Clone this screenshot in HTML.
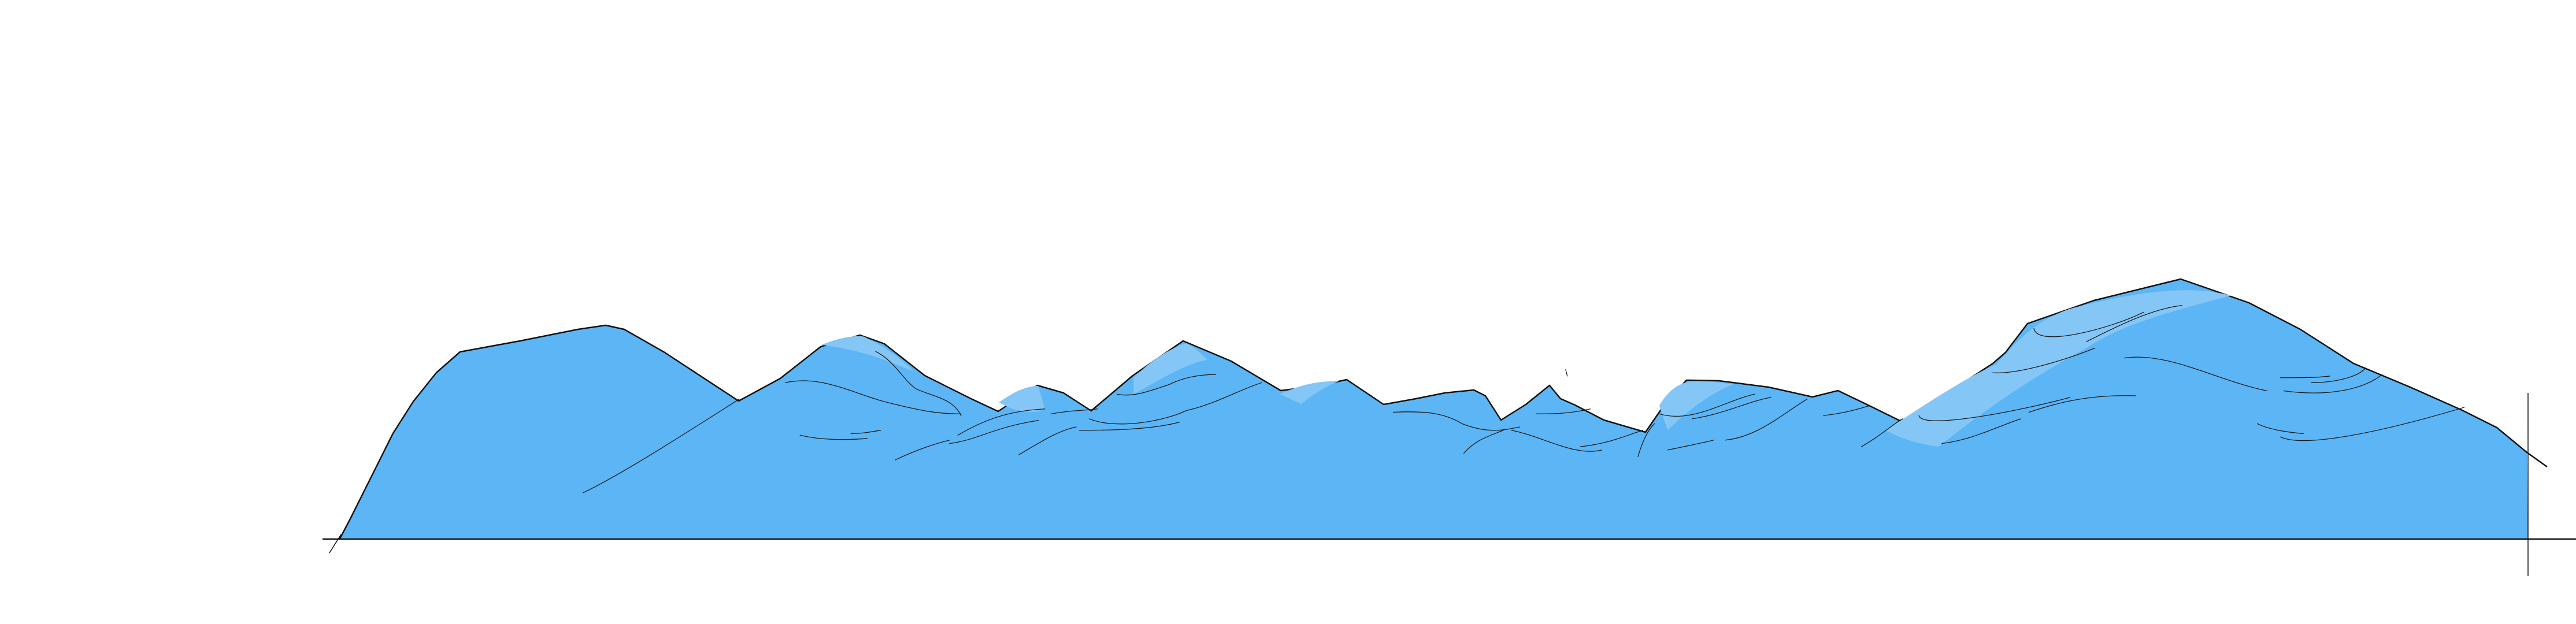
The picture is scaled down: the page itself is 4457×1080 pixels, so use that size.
<!DOCTYPE html>
<html><head><meta charset="utf-8">
<style>html,body{margin:0;padding:0;background:#fff;}svg{display:block;}</style>
</head><body>
<svg id="chart" width="4457" height="1080" viewBox="0 0 4457 1080" xmlns="http://www.w3.org/2000/svg">
<g id="area"></g>
<g id="hl" transform="scale(2.8425)" fill="#84c6f6" stroke="none">
<path d="M500,210 C512,205 522,204 526,205 C540,212 548,218 556,226 C545,222 530,214 500,210 Z"/>
<path d="M608,245 C618,238 625,235 632,235 L636,249 C630,252 620,252 608,245Z"/>
<path d="M690,230 C700,220 712,212 722,209 C728,212 732,216 735,219 C720,222 705,232 690,240 Z"/>
<path d="M779,240 C790,235 800,232 815,232 C805,236 797,242 792,246 Z"/>
<path d="M1010,247 C1015,238 1022,233 1030,232 C1040,232 1048,233 1055,234 C1040,240 1025,252 1015,262 Z"/>
<path d="M1148,262 C1175,244 1200,228 1215,222 C1230,205 1240,195 1260,188 C1290,180 1330,172 1358,180 C1320,190 1290,198 1270,212 C1240,228 1210,248 1180,272 C1165,270 1155,266 1148,262Z"/>
</g>
<g id="lines" transform="scale(2.8425)" fill="none" stroke="#1a1a1a" stroke-width="0.45" stroke-linecap="round">
<path d="M355,300 C380,288 420,262 450,243"/>
<path d="M478,233 C500,228 520,240 540,245 C560,250 570,252 585,252"/>
<path d="M533,214 C545,220 550,232 558,237 C570,242 580,243 585,253"/>
<path d="M487,265 C500,268 515,268 528,267"/>
<path d="M518,264 C525,264 530,263 536,262"/>
<path d="M545,280 C560,273 570,270 578,268"/>
<path d="M578,270 C595,268 605,260 632,256"/>
<path d="M583,265 C600,255 615,250 636,249"/>
<path d="M620,277 C635,268 645,262 655,260"/>
<path d="M640,252 C650,250 660,250 668,249"/>
<path d="M657,262 C670,262 700,262 718,257"/>
<path d="M663,255 C680,262 710,256 722,250 C740,246 755,237 768,233"/>
<path d="M680,240 C690,242 700,238 712,234 C720,230 730,228 740,228"/>
<path d="M848,251 C870,250 880,252 890,258 C905,264 915,262 925,260"/>
<path d="M891,276 C898,268 905,266 915,262"/>
<path d="M935,252 C945,252 955,252 968,249"/>
<path d="M920,262 C940,266 958,278 975,274"/>
<path d="M962,272 C980,270 990,265 1000,262"/>
<path d="M997,278 C1000,268 1003,262 1007,258"/>
<path d="M1010,252 C1030,258 1050,244 1068,240"/>
<path d="M1030,255 C1050,252 1065,244 1078,242"/>
<path d="M1015,274 C1025,272 1035,270 1043,268"/>
<path d="M1050,268 C1070,266 1085,252 1100,243"/>
<path d="M1110,253 C1120,252 1128,250 1138,247"/>
<path d="M1133,272 C1145,265 1150,260 1158,255"/>
<path d="M1182,270 C1200,268 1215,260 1230,255"/>
<path d="M1168,253 C1170,262 1230,250 1260,242"/>
<path d="M1235,251 C1250,246 1270,240 1300,241"/>
<path d="M1213,227 C1230,228 1260,218 1275,212"/>
<path d="M1238,200 C1240,212 1285,200 1305,190"/>
<path d="M1270,208 C1290,198 1310,188 1328,186"/>
<path d="M1293,218 C1320,214 1350,232 1380,238"/>
<path d="M1388,230 C1400,230 1410,230 1418,229"/>
<path d="M1407,233 C1420,233 1435,230 1440,224"/>
<path d="M1390,238 C1420,242 1440,236 1450,228"/>
<path d="M1374,258 C1380,261 1390,263 1402,264"/>
<path d="M1388,266 C1400,272 1440,266 1500,248"/>
<path d="M953,225 L954,229"/>
</g>
<g stroke="#111" fill="none">
<line x1="558" y1="933" x2="4457" y2="933" stroke-width="2.5"/>
<line x1="4374" y1="680" x2="4374" y2="997" stroke-width="1.5"/>
<line x1="570" y1="957" x2="590" y2="925" stroke-width="1.5"/>
</g>
<script>
// outline profile of the area (x positions, heights)
const xs = [587,605,625,650,680,715,755,796,900,1000,1048,1080,1150,1278,1350,1420,1488,1530,1600,1680,1727,1760,1795,1840,1888,1960,2047,2130,2216,2280,2330,2394,2450,2500,2550,2570,2597,2640,2681,2700,2725,2775,2847,2880,2918,2974,3060,3136,3180,3230,3289,3370,3448,3470,3508,3623,3773,3891,3980,4072,4170,4260,4320,4372];
const ys = [934,900,860,810,750,695,645,609,590,570,563,570,610,694,655,600,580,595,650,690,712,690,667,680,711,650,590,625,676,668,657,700,690,680,675,685,727,700,667,690,701,727,748,700,658,659,670,687,676,700,729,680,629,610,560,520,483,524,570,629,670,710,740,783];
const svgns = "http://www.w3.org/2000/svg";
const area = document.getElementById('area');
let d = "M" + xs[0] + "," + ys[0];
for (let i = 1; i < xs.length; i++) {
  d += " L" + xs[i] + "," + ys[i];
}
const fill = document.createElementNS(svgns, 'path');


fill.setAttribute('d', d + " L4374,933 L587,933 Z");
fill.setAttribute('fill', '#5cb5f5');
area.appendChild(fill);
const out = document.createElementNS(svgns, 'path');


out.setAttribute('d', d + " L4407,808");
out.setAttribute('fill', 'none');
out.setAttribute('stroke', '#111');
out.setAttribute('stroke-width', '2.5');
out.setAttribute('stroke-linejoin', 'round');
area.appendChild(out);
</script>
</svg>
</body></html>
